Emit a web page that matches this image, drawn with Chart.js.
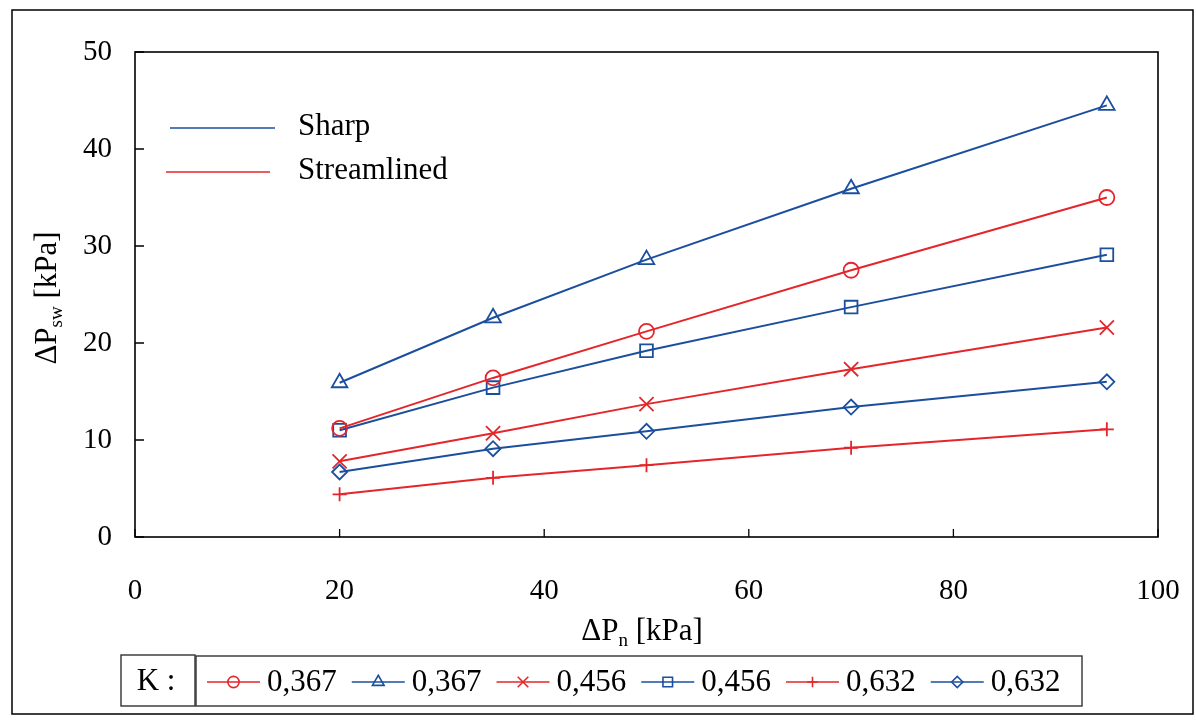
<!DOCTYPE html>
<html>
<head>
<meta charset="utf-8">
<script src="https://cdn.jsdelivr.net/npm/chart.js@4/dist/chart.umd.min.js"></script>
<style>
  html, body { margin: 0; padding: 0; background: #fff; }
  #wrap { width: 1196px; height: 720px; position: relative; }
  canvas { display: block; }
</style>
</head>
<body>
<div id="wrap"><canvas id="chart" width="1196" height="720"></canvas></div>
<script>
// Nozzle pressure drop ΔPn [kPa] (x positions of the measurements)
const pressureN = [20, 35, 50, 70, 95];

// ΔPsw [kPa] for each inlet shape and K value
const streamlined367 = [11.2, 16.4, 21.2, 27.5, 35.0];
const sharp367       = [15.9, 22.6, 28.6, 35.9, 44.5];
const streamlined456 = [7.8, 10.7, 13.7, 17.3, 21.6];
const sharp456       = [11.0, 15.4, 19.2, 23.7, 29.1];
const streamlined632 = [4.4, 6.1, 7.4, 9.2, 11.1];
const sharp632       = [6.7, 9.1, 10.9, 13.4, 16.0];

// K values as shown in the key
const kLabels = ['0,367', '0,367', '0,456', '0,456', '0,632', '0,632'];
const shapeLabels = ['Sharp', 'Streamlined'];

// Axis ticks
const xTicks = [0, 20, 40, 60, 80, 100];
const yTicks = [0, 10, 20, 30, 40, 50];

const RED = '#e4262b';
const BLUE = '#1b4f9d';
const INK = '#000';
const SERIF = '"Liberation Serif", "Times New Roman", serif';

function series(values) {
  return values.map((v, i) => ({ x: pressureN[i], y: v }));
}

function ds(label, values, color, style, radius) {
  return {
    label: label,
    data: series(values),
    borderColor: color,
    backgroundColor: 'rgba(0,0,0,0)',
    borderWidth: 2,
    pointStyle: style,
    pointRadius: radius,
    pointBorderWidth: 1.8,
    pointBorderColor: color,
    pointBackgroundColor: 'rgba(0,0,0,0)',
    tension: 0,
    legendRadius: radius * 0.75
  };
}

const datasets = [
  ds(kLabels[0], streamlined367, RED, 'circle', 7.5),
  ds(kLabels[1], sharp367, BLUE, 'triangle', 9),
  ds(kLabels[2], streamlined456, RED, 'crossRot', 10),
  ds(kLabels[3], sharp456, BLUE, 'rect', 9),
  ds(kLabels[4], streamlined632, RED, 'cross', 7),
  ds(kLabels[5], sharp632, BLUE, 'rectRot', 7.5)
];

// Text with a lowered subscript part, centred on (0,0) of the current transform
function drawSubText(ctx, main, sub, rest, size) {
  const big = size + 'px ' + SERIF;
  const small = Math.round(size * 0.62) + 'px ' + SERIF;
  ctx.font = big;
  const w1 = ctx.measureText(main).width;
  const w3 = ctx.measureText(rest).width;
  ctx.font = small;
  const w2 = ctx.measureText(sub).width;
  const total = w1 + w2 + w3;
  let x = -total / 2;
  ctx.textAlign = 'left';
  ctx.textBaseline = 'middle';
  ctx.fillStyle = INK;
  ctx.font = big;
  ctx.fillText(main, x, 0);
  x += w1;
  ctx.font = small;
  ctx.fillText(sub, x, size * 0.28);
  x += w2;
  ctx.font = big;
  ctx.fillText(rest, x, 0);
}

const decorations = {
  id: 'decorations',
  afterDraw(chart) {
    const ctx = chart.ctx;
    const area = chart.chartArea;
    const xs = chart.scales.x;
    const ys = chart.scales.y;
    ctx.save();

    // outer frame
    ctx.strokeStyle = INK;
    ctx.lineWidth = 1.5;
    ctx.strokeRect(12, 10, 1181, 704);

    // plot frame
    ctx.lineWidth = 1.6;
    ctx.strokeRect(area.left, area.top, area.right - area.left, area.bottom - area.top);

    // inward tick marks
    ctx.lineWidth = 1.3;
    ctx.beginPath();
    xTicks.forEach(v => {
      const px = xs.getPixelForValue(v);
      ctx.moveTo(px, area.bottom);
      ctx.lineTo(px, area.bottom - 8);
    });
    yTicks.forEach(v => {
      const py = ys.getPixelForValue(v);
      ctx.moveTo(area.left, py);
      ctx.lineTo(area.left + 9, py);
    });
    ctx.stroke();

    // axis titles
    ctx.save();
    ctx.translate(642, 632);
    drawSubText(ctx, 'ΔP', 'n', ' [kPa]', 31);
    ctx.restore();
    ctx.save();
    ctx.translate(48, 298);
    ctx.rotate(-Math.PI / 2);
    drawSubText(ctx, 'ΔP', 'sw', ' [kPa]', 31);
    ctx.restore();

    // shape key inside the plot
    ctx.font = '31px ' + SERIF;
    ctx.textAlign = 'left';
    ctx.textBaseline = 'middle';
    const shapeKey = [
      { color: BLUE, x0: 170, x1: 275, y: 128 },
      { color: RED, x0: 166, x1: 270, y: 172 }
    ];
    shapeKey.forEach((k, i) => {
      ctx.strokeStyle = k.color;
      ctx.lineWidth = 1.6;
      ctx.beginPath();
      ctx.moveTo(k.x0, k.y);
      ctx.lineTo(k.x1, k.y);
      ctx.stroke();
      ctx.fillStyle = INK;
      ctx.fillText(shapeLabels[i], 298, k.y - 1);
    });

    // K key below the plot
    ctx.strokeStyle = '#333';
    ctx.lineWidth = 1.4;
    ctx.strokeRect(121, 655, 74, 51);
    ctx.strokeRect(196, 656, 886, 50);
    ctx.fillStyle = INK;
    ctx.font = '31px ' + SERIF;
    ctx.textAlign = 'center';
    ctx.fillText('K :', 156, 682);

    let x = 207;
    const cy = 682;
    chart.data.datasets.forEach(d => {
      ctx.strokeStyle = d.borderColor;
      ctx.lineWidth = 1.6;
      ctx.beginPath();
      ctx.moveTo(x, cy);
      ctx.lineTo(x + 53, cy);
      ctx.stroke();
      ctx.fillStyle = 'rgba(0,0,0,0)';
      ctx.strokeStyle = d.borderColor;
      Chart.helpers.drawPoint(ctx, {
        pointStyle: d.pointStyle,
        radius: d.legendRadius,
        rotation: 0,
        borderWidth: 1.6
      }, x + 26.5, cy);
      ctx.fillStyle = INK;
      ctx.textAlign = 'left';
      ctx.font = '31px ' + SERIF;
      ctx.fillText(d.label, x + 60, cy + 1);
      x += 53 + 7 + ctx.measureText(d.label).width + 15;
    });

    ctx.restore();
  }
};

new Chart(document.getElementById('chart'), {
  type: 'line',
  data: { datasets: datasets },
  options: {
    responsive: false,
    animation: false,
    devicePixelRatio: 1,
    layout: { padding: { top: 52, right: 0, left: 0, bottom: 0 } },
    plugins: {
      legend: { display: false },
      tooltip: { enabled: false }
    },
    scales: {
      x: {
        type: 'linear',
        min: 0,
        max: 100,
        afterFit(s) {
          s.height = 183;
          s.paddingLeft = 0;
          s.paddingRight = 38;
        },
        afterBuildTicks(s) { s.ticks = xTicks.map(v => ({ value: v })); },
        grid: { display: true, drawOnChartArea: false, drawTicks: false },
        border: { display: false },
        ticks: {
          padding: 37,
          color: INK,
          maxRotation: 0,
          font: { family: SERIF, size: 29 }
        }
      },
      y: {
        type: 'linear',
        min: 0,
        max: 50,
        afterFit(s) { s.width = 135; },
        afterBuildTicks(s) { s.ticks = yTicks.map(v => ({ value: v })); },
        grid: { display: true, drawOnChartArea: false, drawTicks: false },
        border: { display: false },
        ticks: {
          padding: 23,
          color: INK,
          font: { family: SERIF, size: 29 }
        }
      }
    }
  },
  plugins: [decorations]
});
</script>
</body>
</html>
